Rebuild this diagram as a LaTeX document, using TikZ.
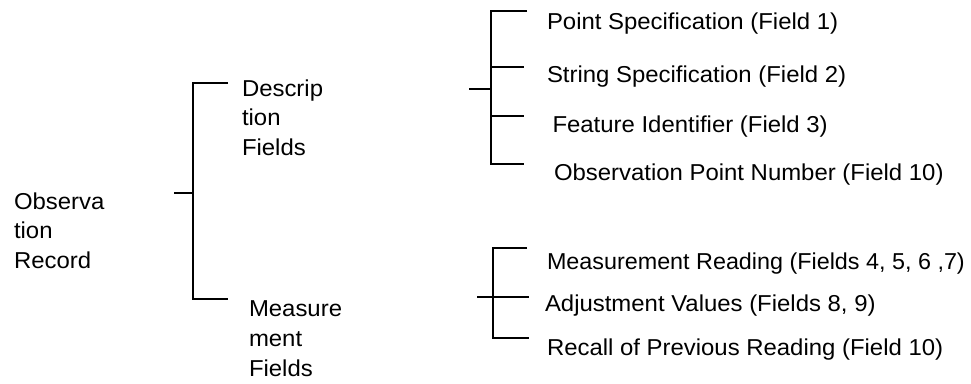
\documentclass[tikz,border=0pt]{standalone}
\usepackage{fontspec}
\setmainfont{Liberation Sans}[FakeStretch=1.04]
\newcommand\lblfont{\fontsize{23bp}{29.5bp}\selectfont}
\begin{document}
\begin{tikzpicture}[x=1bp,y=-1bp,
  lbl/.style={anchor=base west, inner sep=0pt, outer sep=0pt, font=\lblfont},
  brk/.style={line width=2bp, line join=miter, line cap=butt}]
\useasboundingbox (0,0) rectangle (971,383);
% left labels
\node[lbl] (obs1) at (14,209) {Observa};
\node[lbl] (obs2) at (14,238.5) {tion};
\node[lbl] (obs3) at (14,268) {Record};
\node[lbl] (des1) at (242,96) {Descrip};
\node[lbl] (des2) at (242,125.5) {tion};
\node[lbl] (des3) at (242,155) {Fields};
\node[lbl] (mea1) at (249,316) {Measure};
\node[lbl] (mea2) at (249,346) {ment};
\node[lbl] (mea3) at (249,376) {Fields};
% right labels
\node[lbl] (f1) at (547,29) {Point Specification (Field 1)};
\node[lbl] (f2) at (547,82.5) {String Specification (Field 2)};
\node[lbl] (f3) at (552.5,132.5) {Feature Identifier (Field 3)};
\node[lbl] (f10) at (554,180.5) {Observation Point Number (Field 10)};
\node[lbl] (m1) at (547,269.5) {\addfontfeatures{FakeStretch=1.015}Measurement Reading (Fields 4, 5, 6 ,7)};
\node[lbl] (m2) at (545,311) {Adjustment Values (Fields 8, 9)};
\node[lbl] (m3) at (547,355) {Recall of Previous Reading (Field 10)};
% bracket coordinates: main
\coordinate (L-stub) at (174,193);
\coordinate (L-mid) at (193,193);
\coordinate (L-top) at (228,83);
\coordinate (L-bot) at (228,299);
% upper right bracket
\coordinate (U-stub) at (469,89.3);
\coordinate (U-mid) at (491,89.3);
\coordinate (U-1) at (527,10.7);
\coordinate (U-2) at (524,66.7);
\coordinate (U-3) at (524,116);
\coordinate (U-4) at (524,164);
% lower right bracket
\coordinate (D-stub) at (477,297.3);
\coordinate (D-1) at (527,248.3);
\coordinate (D-2) at (529,297.3);
\coordinate (D-3) at (529,338.3);
% draw brackets
\draw[brk] (L-top) -- (L-top -| L-mid) -- (L-bot -| L-mid) -- (L-bot);
\draw[brk] (L-stub) -- (L-mid);
\draw[brk] (U-1) -- (U-1 -| U-mid) -- (U-4 -| U-mid) -- (U-4);
\draw[brk] (U-stub) -- (U-mid);
\draw[brk] (U-2 -| U-mid) -- (U-2);
\draw[brk] (U-3 -| U-mid) -- (U-3);
\draw[brk] (D-1) -- (D-1 -| 493,0) -- (D-3 -| 493,0) -- (D-3);
\draw[brk] (D-stub) -- (D-2);
\end{tikzpicture}
\end{document}
